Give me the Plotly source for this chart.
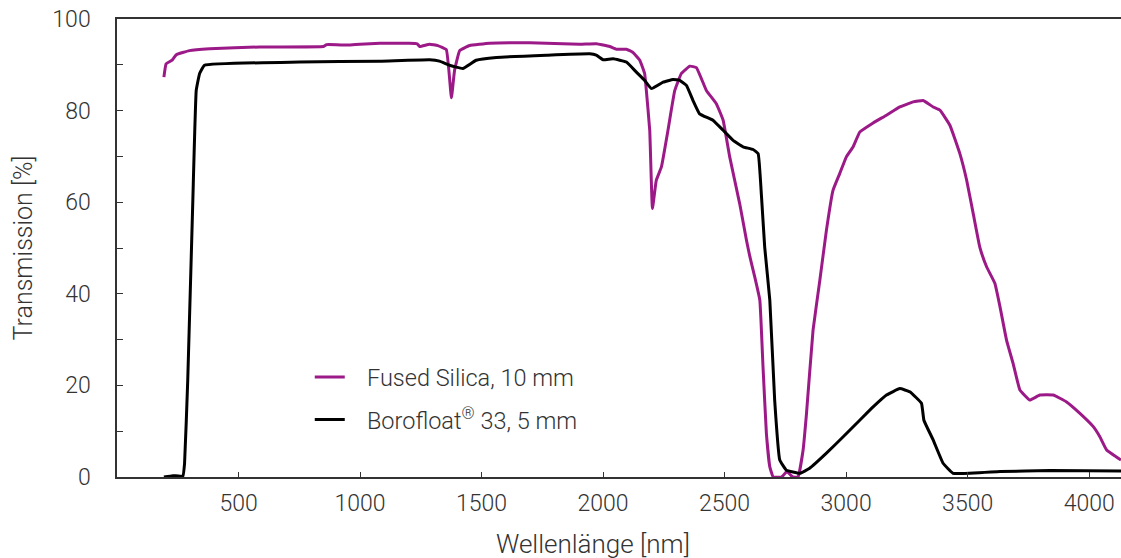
import plotly.graph_objects as go

# Fused Silica, 10 mm
fs_nm = [193, 202, 227, 244, 298, 381, 587, 850, 862, 950, 1000, 1082, 1200, 1235, 1245, 1286, 1320, 1355,
         1376, 1389, 1410, 1451, 1533, 1698, 1904, 1972, 2027, 2055, 2096, 2123, 2151, 2171, 2178, 2192,
         2203, 2219, 2240, 2267, 2295, 2322, 2357, 2384, 2425, 2466, 2494, 2521, 2562, 2590, 2604, 2624,
         2645, 2658, 2672, 2686, 2700, 2735, 2756, 2780, 2802, 2823, 2837, 2864, 2892, 2919, 2946, 2974,
         3001, 3029, 3056, 3111, 3166, 3221, 3276, 3317, 3358, 3386, 3427, 3468, 3496, 3523, 3550, 3578,
         3612, 3633, 3660, 3687, 3715, 3756, 3797, 3852, 3907, 3962, 4017, 4044, 4072, 4131]
fs_t = [87.3, 90.2, 91.0, 92.2, 93.1, 93.5, 93.9, 94.0, 94.4, 94.3, 94.5, 94.7, 94.7, 94.6, 94.0, 94.5, 94.2, 93.3,
        82.8, 88.8, 93.1, 94.2, 94.7, 94.8, 94.5, 94.6, 94.0, 93.4, 93.4, 92.7, 91.0, 88.1, 84.4, 75.7,
        58.6, 64.8, 67.7, 75.7, 84.4, 88.1, 89.7, 89.4, 84.4, 81.5, 77.9, 69.9, 59.7, 51.7, 48.1, 43.7,
        38.6, 24.1, 9.5, 2.2, 0.0, 0.0, 1.2, 0.0, 0.0, 5.9, 13.9, 32.1, 43.0, 53.9, 62.6, 66.3,
        69.9, 72.1, 75.3, 77.3, 79.0, 80.8, 81.9, 82.2, 80.8, 80.1, 76.8, 70.6, 64.8, 57.5, 50.2, 45.9,
        42.3, 37.2, 29.9, 24.8, 19.0, 16.8, 17.9, 17.9, 16.4, 13.9, 11.0, 8.8, 5.9, 3.7]

# Borofloat 33, 5 mm
bf_nm = [193, 230, 271, 278, 291, 312, 326, 340, 360, 751, 1082, 1286, 1327, 1368, 1423, 1478, 1561, 1767,
         1945, 1972, 2000, 2041, 2096, 2137, 2171, 2199, 2247, 2288, 2315, 2343, 2370, 2397, 2452, 2494,
         2535, 2576, 2617, 2638, 2652, 2665, 2686, 2706, 2727, 2754, 2809, 2850, 2919, 2988, 3056, 3111,
         3166, 3221, 3262, 3310, 3320, 3358, 3399, 3440, 3633, 3839, 4131]
bf_t = [0.0, 0.3, 0.2, 3.0, 21.0, 60.4, 84.4, 88.1, 89.9, 90.6, 90.8, 91.1, 90.8, 89.9, 89.2, 91.0, 91.6, 92.1,
        92.4, 92.1, 91.1, 91.3, 90.6, 88.4, 86.6, 84.8, 86.2, 86.8, 86.6, 85.5, 82.2, 79.3, 77.9, 75.7,
        73.5, 72.1, 71.5, 70.6, 61.1, 50.2, 38.6, 16.8, 3.7, 1.5, 0.8, 1.9, 5.2, 8.8, 12.4, 15.3,
        17.9, 19.3, 18.6, 16.1, 12.4, 8.1, 3.0, 0.8, 1.2, 1.4, 1.3]

x_ticks = [500, 1000, 1500, 2000, 2500, 3000, 3500, 4000]
y_ticks = [0, 10, 20, 30, 40, 50, 60, 70, 80, 90, 100]
y_labels = [str(v) if v % 20 == 0 else "" for v in y_ticks]

PURPLE = "#9c1a88"
FONT = "Roboto"
TXT = "#333333"
GAP = "\u00a0\u00a0\u00a0"

fig = go.Figure()
fig.add_trace(go.Scatter(x=fs_nm, y=fs_t, mode="lines", name=GAP + "Fused Silica, 10 mm",
                         legendgroup="a", line=dict(color=PURPLE, width=3, shape="spline", smoothing=0.3)))
fig.add_trace(go.Scatter(x=bf_nm, y=bf_t, mode="lines", name=GAP + "Borofloat<sup>®</sup> 33, 5 mm",
                         legendgroup="b", line=dict(color="#000000", width=3, shape="spline", smoothing=0.3)))

fig.update_layout(
    width=1121, height=558,
    margin=dict(l=117, r=0, t=19, b=81),
    paper_bgcolor="white", plot_bgcolor="white",
    font=dict(family=FONT, size=23, color=TXT, weight=300),
    showlegend=True,
    legend=dict(x=0.192, y=0.266, xanchor="left", yanchor="top",
                font=dict(family=FONT, size=23.5, color=TXT, weight=300),
                traceorder="grouped", tracegroupgap=9, bgcolor="rgba(0,0,0,0)"),
    xaxis=dict(range=[0, 4131], tickvals=x_ticks, ticks="inside", ticklen=5, tickcolor="#333",
               showline=True, linecolor="#333", linewidth=1.5, mirror=True, showgrid=False,
               zeroline=False, ticklabelstandoff=5,
               tickfont=dict(family=FONT, size=23, color=TXT, weight=300)),
    yaxis=dict(range=[0, 100], tickvals=y_ticks, ticktext=y_labels, ticks="inside", ticklen=6,
               tickcolor="#333", showline=True, linecolor="#333", linewidth=1.5, showgrid=False,
               zeroline=False, ticklabelstandoff=20,
               tickfont=dict(family=FONT, size=23, color=TXT, weight=300),
               title=dict(text="Transmission [%]", standoff=13,
                          font=dict(family=FONT, size=25, color=TXT, weight=300))),
    annotations=[dict(text="Wellenlänge [nm]", xref="paper", yref="paper", x=0.474, y=-0.146,
                      xanchor="center", yanchor="middle", showarrow=False,
                      font=dict(family=FONT, size=26, color=TXT, weight=300))],
)

fig.write_html("out.html", config={"displayModeBar": False},
               post_script="document.body.style.margin='0';document.body.style.overflow='hidden';")
